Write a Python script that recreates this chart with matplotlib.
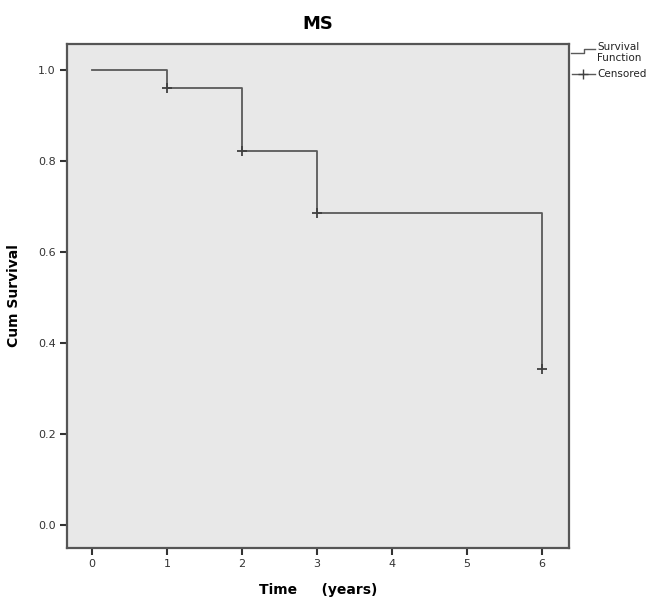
import matplotlib
matplotlib.use("Agg")
import matplotlib.pyplot as plt
from matplotlib.lines import Line2D

# Kaplan-Meier estimate for MS
times = [0, 1, 2, 3, 6]
survival = [1.0, 0.96, 0.823, 0.686, 0.343]
censored_times = [1, 2, 3, 6]
censored_surv = [0.96, 0.823, 0.686, 0.343]
xticks = [0, 1, 2, 3, 4, 5, 6]
yticks = [0.0, 0.2, 0.4, 0.6, 0.8, 1.0]

line_col = "#5a5a5a"
fig = plt.figure(figsize=(6.58, 6.02), dpi=100)
ax = fig.add_axes([0.1018, 0.0897, 0.7629, 0.8372])
ax.set_facecolor("#e8e8e8")

ax.step(times, survival, where="post", color=line_col, lw=1.3)
ax.plot(censored_times, censored_surv, linestyle="none", marker="+",
        markersize=7, mew=1.3, color="#404040")

ax.set_xlim(-0.333, 6.36)
ax.set_ylim(-0.05, 1.057)
ax.set_xticks(xticks)
ax.set_yticks(yticks)
ax.set_xticklabels([str(t) for t in xticks])
ax.set_yticklabels([f"{v:.1f}" for v in yticks])
ax.tick_params(labelsize=8, colors="#333333", length=5, width=1.5, pad=3)
for s in ax.spines.values():
    s.set_color("#555555")
    s.set_linewidth(1.6)

ax.set_title("MS", fontsize=13, fontweight="bold", pad=11)
ax.set_xlabel("Time     (years)", fontsize=10, fontweight="bold", labelpad=10)
ax.set_ylabel("Cum Survival", fontsize=10, fontweight="bold", labelpad=12)

# Legend drawn beside the plot area
W, H = 658, 602
def fx(px):
    return px / W
def fy(py):
    return 1 - py / H

fig.add_artist(Line2D([fx(571), fx(584), fx(584), fx(595)],
                      [fy(53), fy(53), fy(49), fy(49)],
                      color=line_col, lw=1.0, transform=fig.transFigure))
fig.text(fx(597), fy(47), "Survival", fontsize=7.5, va="center", ha="left", color="#222222")
fig.text(fx(597), fy(58), "Function", fontsize=7.5, va="center", ha="left", color="#222222")
fig.add_artist(Line2D([fx(572), fx(595)], [fy(74), fy(74)],
                      color=line_col, lw=1.0, transform=fig.transFigure))
fig.add_artist(Line2D([fx(583)], [fy(74)], marker="+", markersize=7, mew=1.0,
                      color="#404040", linestyle="none", transform=fig.transFigure))
fig.text(fx(597), fy(74), "Censored", fontsize=7.5, va="center", ha="left", color="#222222")

fig.savefig("out.png", dpi=100, facecolor="white")
